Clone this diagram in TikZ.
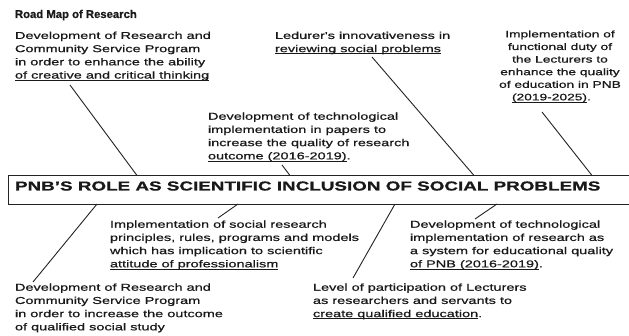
\documentclass[tikz,border=0pt]{standalone}
\usepackage{fontspec}
\setmainfont{Liberation Sans}
\newfontfamily\bodyf[FakeStretch=1.45,FakeBold=0.7]{Liberation Sans}
\newfontfamily\boxf[FakeStretch=1.45,FakeBold=0.8]{Liberation Sans Bold}
\newfontfamily\titlef[FakeBold=0.6]{Liberation Sans Bold}
\usetikzlibrary{calc}
\definecolor{txt}{RGB}{25,25,25}
\definecolor{ln}{RGB}{35,35,35}
\newcommand\ul[1]{\begingroup\setbox0\hbox{#1}\rlap{\rule[-2pt]{\wd0}{0.75pt}}\box0\endgroup}
\begin{document}
\begin{tikzpicture}[x=1pt,y=-1pt,
  every node/.style={inner sep=0pt, outer sep=0pt, text=txt},
  body/.style={font=\bodyf\fontsize{10}{13.2}\selectfont, align=left, anchor=north west},
  bodyc/.style={font=\bodyf\fontsize{9.5}{12.6}\selectfont, align=center, anchor=north},
  link/.style={draw=ln, line width=0.9pt}]
\useasboundingbox (0,0) rectangle (629,336);
\fill[white] (0,0) rectangle (629,336);

\node[anchor=base west, font=\titlef\fontsize{11.3}{13}\selectfont] (title) at (15,18) {Road Map of Research};

\node[body] (a) at (15,31.7) {Development of Research and\\Community Service Program\\in order to enhance the ability\\\ul{of creative and critical thinking}};
\node[body] (b) at (275,31.7) {Ledurer's innovativeness in\\\ul{reviewing social problems}};
\node[bodyc] (c) at (560,30.5) {Implementation of\\functional duty of\\the Lecturers to\\enhance the quality\\of education in PNB\\\makebox[0pt][l]{\hspace*{-48pt}\ul{(2019-2025)}.}};
\node[body] (d) at (208,112.5) {Development of technological\\implementation in papers to\\increase the quality of research\\\ul{outcome (2016-2019)}.};

\node[draw=ln, line width=0.9pt, anchor=north west, minimum width=622pt, minimum height=28.5pt] (box) at (8,175.5) {};
\node[anchor=base west, font=\boxf\fontsize{13}{15}\selectfont] (boxtext) at (15,190.5) {PNB’S ROLE AS SCIENTIFIC INCLUSION OF SOCIAL PROBLEMS};

\node[body] (e) at (110,220.5) {Implementation of social research\\principles, rules, programs and models\\which has implication to scientific\\\ul{attitude of professionalism}};
\node[body] (h) at (410,220.5) {Development of technological\\implementation of research as\\a system for educational quality\\\ul{of PNB (2016-2019)}.};
\node[body] (f) at (15,283.5) {Development of Research and\\Community Service Program\\in order to increase the outcome\\of qualified social study};
\node[body] (g) at (313,283.5) {Level of participation of Lecturers\\as researchers and servants to\\\ul{create qualified education}.};

\coordinate (ea) at (70,85);
\coordinate (eb) at (372,57);
\coordinate (ec) at (542,112);
\coordinate (ed) at (282,165);
\coordinate (ef) at (33,282);
\coordinate (ee) at (218,218);
\coordinate (eg) at (353,278);
\coordinate (eh) at (475,219);

\draw[link] (ea) -- ([xshift=129pt]box.north west);
\draw[link] (eb) -- ([xshift=466pt]box.north west);
\draw[link] (ec) -- ([xshift=584pt]box.north west);
\draw[link] (ed) -- ([xshift=282pt]box.north west);
\draw[link] ([xshift=89pt]box.south west) -- (ef);
\draw[link] ([xshift=230pt]box.south west) -- (ee);
\draw[link] ([xshift=387pt]box.south west) -- (eg);
\draw[link] ([xshift=489pt]box.south west) -- (eh);
\end{tikzpicture}
\end{document}
